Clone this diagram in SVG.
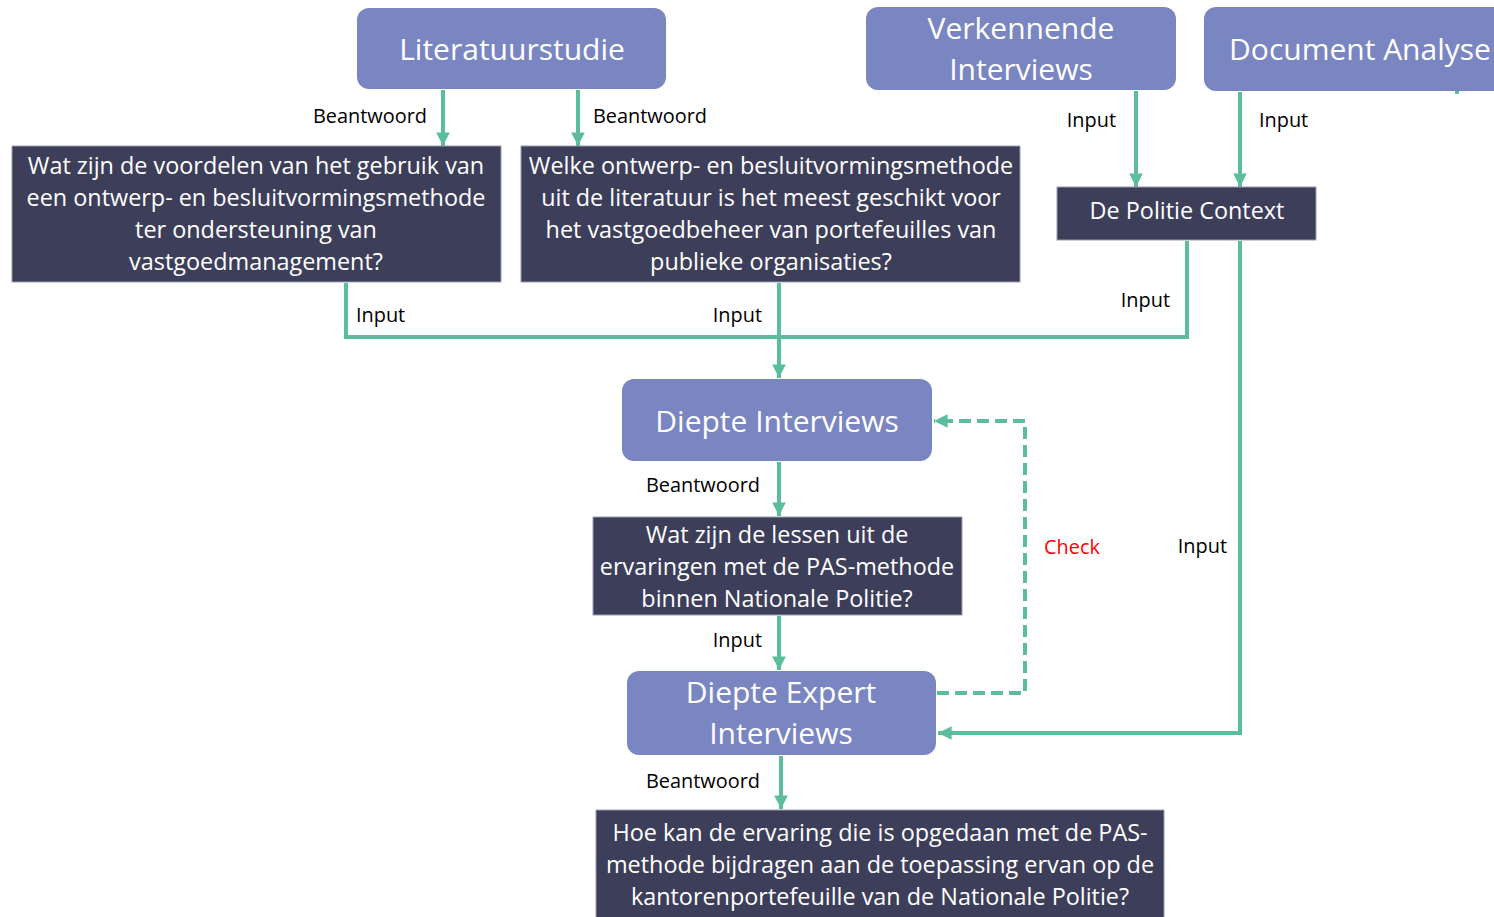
<svg xmlns="http://www.w3.org/2000/svg" width="1494" height="917" viewBox="0 0 1494 917">
<style>
.m{fill:#7A86C2}
.q{fill:#3D3F5A;stroke:#9A9CB0;stroke-width:1}
.mt{font-family:"Open Sans","Noto Sans",sans-serif;font-size:30px;fill:#fff;text-anchor:middle;dominant-baseline:central}
.qt{font-family:"Open Sans","Noto Sans",sans-serif;font-size:23.4px;fill:#fff;text-anchor:middle;dominant-baseline:central}
.lb{font-family:"Open Sans","Noto Sans",sans-serif;font-size:19.9px;fill:#000;dominant-baseline:central}
.c{fill:none;stroke:#5BBD9B;stroke-width:4}
.d{fill:none;stroke:#5BBD9B;stroke-width:4;stroke-dasharray:12 6}
</style>
<defs>
<marker id="a" viewBox="0 0 10 10" refX="10" refY="5" markerWidth="3.4" markerHeight="3.4" markerUnits="strokeWidth" orient="auto">
<path d="M0,0 L10,5 L0,10 z" fill="#5BBD9B"/>
</marker>
</defs>
<rect width="1494" height="917" fill="#fff"/>
<g id="connectors">
<path class="c" d="M443,90 V146" marker-end="url(#a)"/>
<path class="c" d="M578,90 V146" marker-end="url(#a)"/>
<path class="c" d="M1136,91 V187" marker-end="url(#a)"/>
<path class="c" d="M1240,92 V187" marker-end="url(#a)"/>
<path class="c" d="M1457,90 V94"/>
<path class="c" d="M346,283 V337 H779"/>
<path class="c" d="M779,283 V378" marker-end="url(#a)"/>
<path class="c" d="M1187,241 V337 H779"/>
<path class="c" d="M1240,241 V733 H938" marker-end="url(#a)"/>
<path class="c" d="M779,462 V516" marker-end="url(#a)"/>
<path class="c" d="M779,616 V670" marker-end="url(#a)"/>
<path class="c" d="M781,756 V809" marker-end="url(#a)"/>
<path class="d" d="M937,693 H1025 V421 H934" marker-end="url(#a)"/>
<text class="lb" x="427" y="115" text-anchor="end">Beantwoord</text>
<text class="lb" x="593" y="115">Beantwoord</text>
<text class="lb" x="1116" y="119" text-anchor="end">Input</text>
<text class="lb" x="1259" y="119">Input</text>
<text class="lb" x="356" y="314">Input</text>
<text class="lb" x="762" y="314" text-anchor="end">Input</text>
<text class="lb" x="1170" y="299" text-anchor="end">Input</text>
<text class="lb" x="1227" y="545" text-anchor="end">Input</text>
<text class="lb" x="760" y="484" text-anchor="end">Beantwoord</text>
<text class="lb" x="762" y="639" text-anchor="end">Input</text>
<text class="lb" x="760" y="780" text-anchor="end">Beantwoord</text>
<text class="lb" x="1044" y="546" style="fill:#FF0000">Check</text>
</g>
<g id="literatuurstudie">
<rect class="m" x="357" y="8" width="309" height="81" rx="12"/>
<text class="mt" x="512" y="48">Literatuurstudie</text>
</g>
<g id="verkennende">
<rect class="m" x="866" y="7" width="310" height="83" rx="12"/>
<text class="mt" x="1021" y="27">Verkennende</text>
<text class="mt" x="1021" y="68">Interviews</text>
</g>
<g id="document">
<rect class="m" x="1204" y="7" width="310" height="84" rx="12"/>
<text class="mt" x="1360" y="48">Document Analyse</text>
</g>
<g id="q1">
<rect class="q" x="12" y="146" width="489" height="136"/>
<text class="qt" x="256" y="165">Wat zijn de voordelen van het gebruik van</text>
<text class="qt" x="256" y="197">een ontwerp- en besluitvormingsmethode</text>
<text class="qt" x="256" y="229">ter ondersteuning van</text>
<text class="qt" x="256" y="261">vastgoedmanagement?</text>
</g>
<g id="q2">
<rect class="q" x="521" y="146" width="499" height="136"/>
<text class="qt" x="771" y="165">Welke ontwerp- en besluitvormingsmethode</text>
<text class="qt" x="771" y="197">uit de literatuur is het meest geschikt voor</text>
<text class="qt" x="771" y="229">het vastgoedbeheer van portefeuilles van</text>
<text class="qt" x="771" y="261">publieke organisaties?</text>
</g>
<g id="politie">
<rect class="q" x="1057" y="187" width="259" height="53"/>
<text class="qt" x="1187" y="210">De Politie Context</text>
</g>
<g id="diepte">
<rect class="m" x="622" y="379" width="310" height="82" rx="12"/>
<text class="mt" x="777" y="420">Diepte Interviews</text>
</g>
<g id="q3">
<rect class="q" x="593" y="517" width="369" height="98"/>
<text class="qt" x="777" y="534">Wat zijn de lessen uit de</text>
<text class="qt" x="777" y="566">ervaringen met de PAS-methode</text>
<text class="qt" x="777" y="598">binnen Nationale Politie?</text>
</g>
<g id="expert">
<rect class="m" x="627" y="671" width="309" height="84" rx="12"/>
<text class="mt" x="781" y="691">Diepte Expert</text>
<text class="mt" x="781" y="732">Interviews</text>
</g>
<g id="q4">
<rect class="q" x="596" y="810" width="568" height="112"/>
<text class="qt" x="880" y="832">Hoe kan de ervaring die is opgedaan met de PAS-</text>
<text class="qt" x="880" y="864">methode bijdragen aan de toepassing ervan op de</text>
<text class="qt" x="880" y="896">kantorenportefeuille van de Nationale Politie?</text>
</g>
</svg>
